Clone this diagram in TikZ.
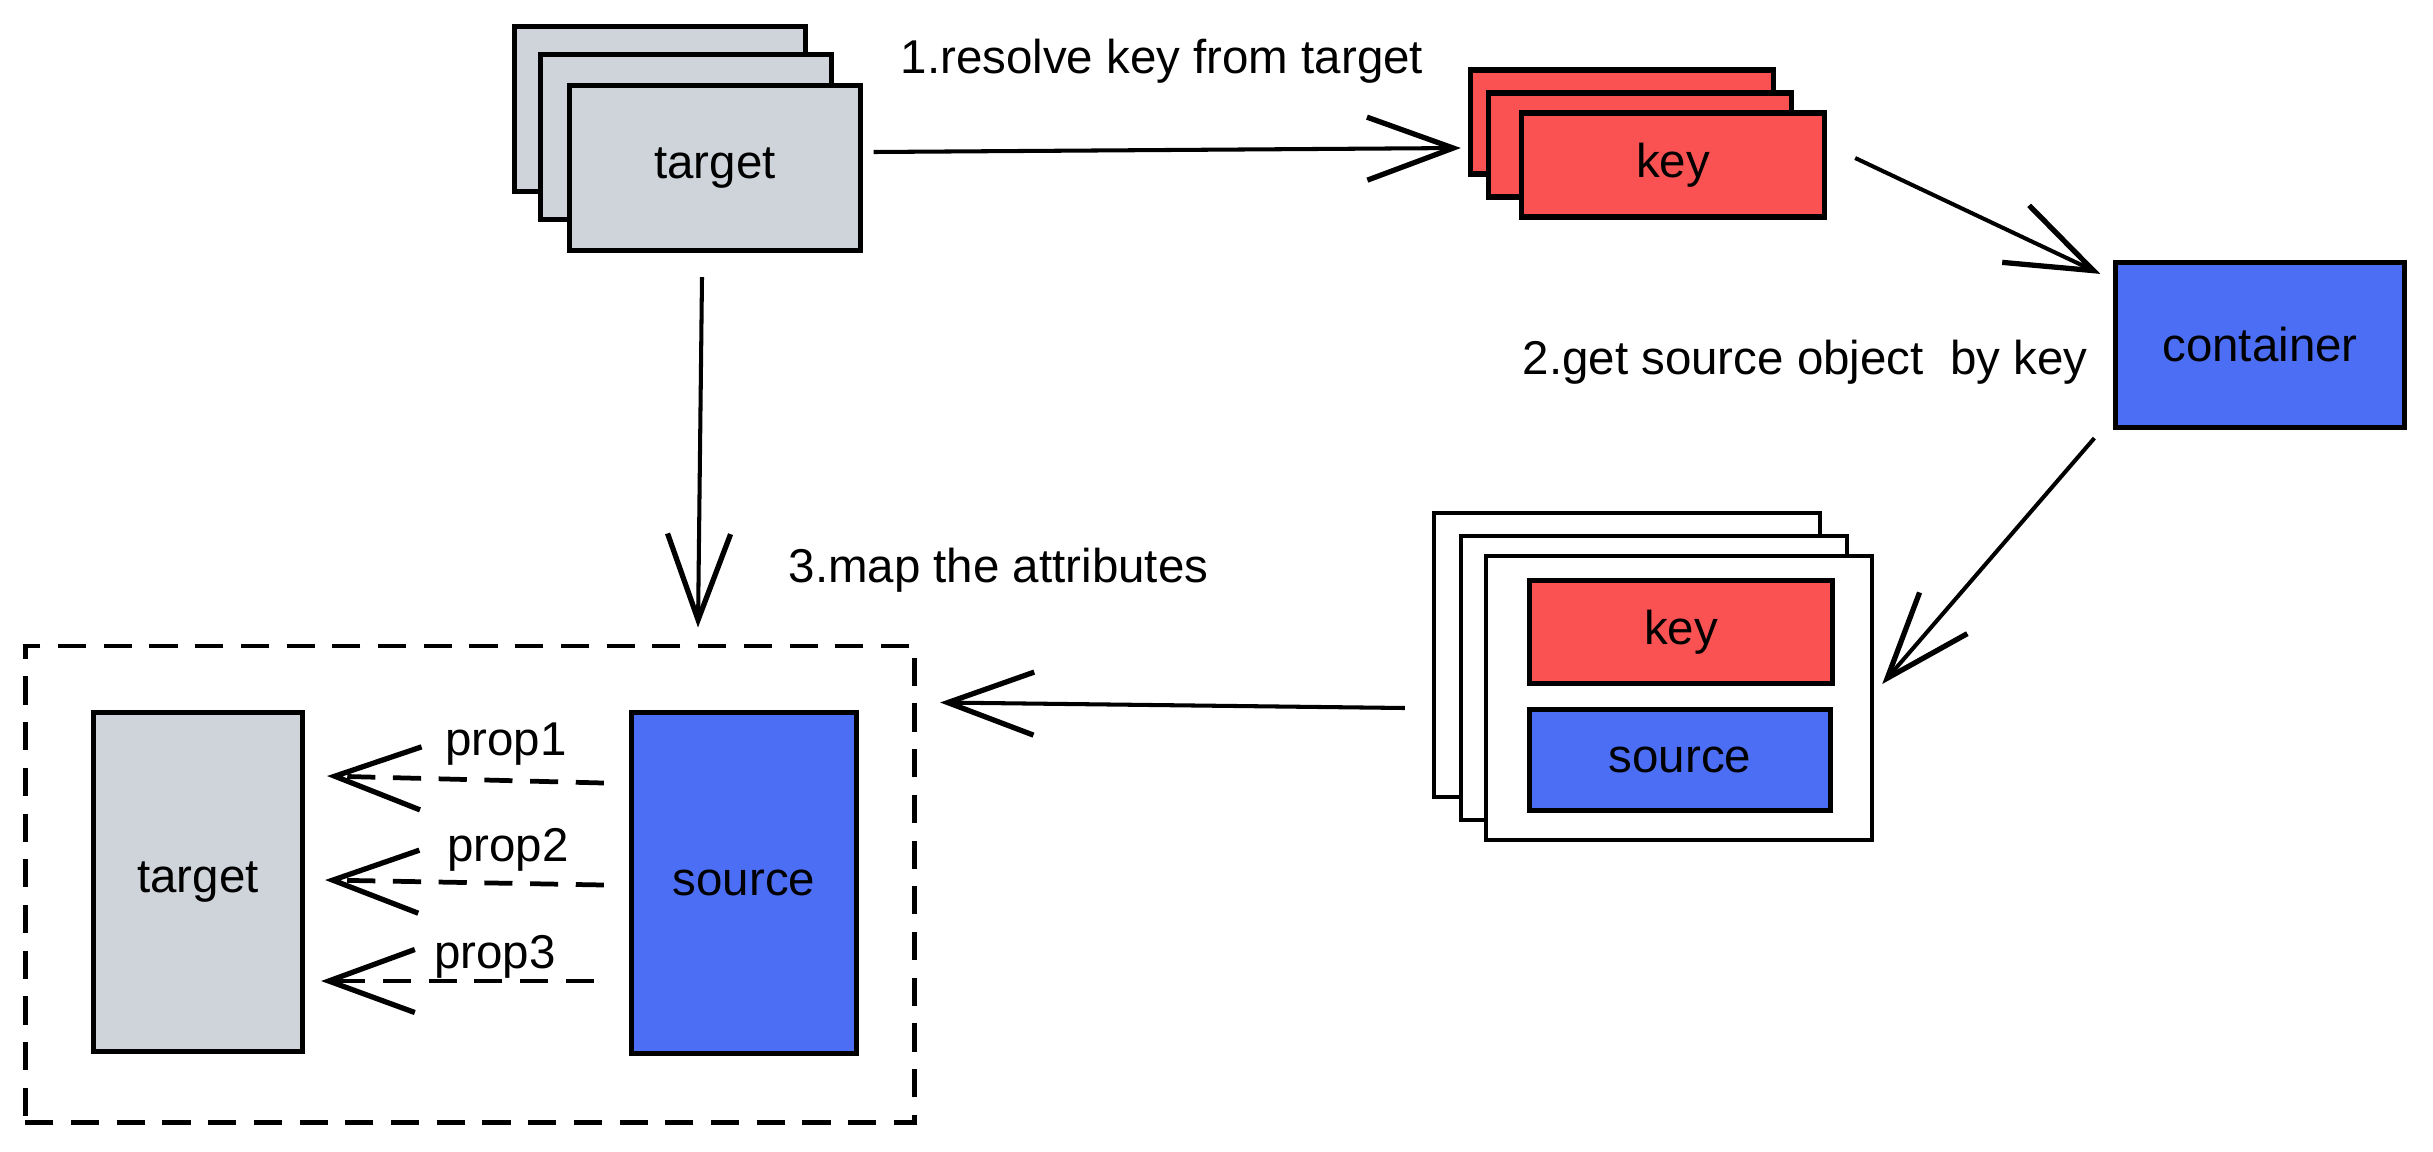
\documentclass[tikz,border=0pt]{standalone}
\usepackage{fontspec}
\setmainfont{Liberation Sans}
\usetikzlibrary{arrows.meta,calc}
\definecolor{gr}{HTML}{CED4DA}
\definecolor{rd}{HTML}{FA5252}
\definecolor{bl}{HTML}{4C6EF5}
\begin{document}
\begin{tikzpicture}[x=0.01cm,y=-0.01cm,
  box/.style={draw=black, line width=1.45pt, inner sep=0pt, font=\fontsize{13.5}{16}\selectfont},
  tbox/.style={box, fill=gr, minimum width=2.9cm, minimum height=1.65cm},
  kbox/.style={box, fill=rd, minimum width=3.03cm, minimum height=1.04cm},
  obox/.style={box, fill=white, line width=1.2pt, minimum width=3.86cm, minimum height=2.84cm},
  lbl/.style={inner sep=0pt, font=\fontsize{13.5}{16}\selectfont},
  arr/.style={line width=1.15pt, -{Straight Barb[length=0.86cm,width=0.63cm,line width=1.5pt]}},
  darr/.style={arr, line width=1.35pt, dash pattern=on 8pt off 5pt},
]
\useasboundingbox (0,0) rectangle (2433,1151);
% target stack
\node[tbox] (tb) at (660,109) {};
\node[tbox] (tm) at (686,137) {};
\node[tbox] (tf) at (715,168) {target};
% key stack
\node[kbox] (kb) at (1622,122) {};
\node[kbox] (km) at (1640,145) {};
\node[kbox] (kf) at (1673,165) {key};
% container
\node[box, fill=bl, minimum width=2.88cm, minimum height=1.65cm] (cont) at (2260,345) {container};
% object stack
\node[obox] (ob) at (1627,655) {};
\node[obox] (om) at (1654,678) {};
\node[obox] (of) at (1679,698) {};
\node[box, fill=rd, minimum width=3.02cm, minimum height=1.03cm] (ik) at (1681,632) {key};
\node[box, fill=bl, minimum width=3.0cm, minimum height=1.01cm] (is) at (1680,760) {source};
% group
\node[draw=black, line width=1.35pt, dash pattern=on 8pt off 5pt, inner sep=0pt, minimum width=8.89cm, minimum height=4.76cm] (grp) at (470,884) {};
\node[box, fill=gr, minimum width=2.09cm, minimum height=3.38cm] (gt) at (198,882) {target};
\node[box, fill=bl, minimum width=2.25cm, minimum height=3.40cm] (gs) at (744,883) {source};
% labels
\node[lbl, anchor=base west] (l1) at (900,73) {1.resolve key from target};
\node[lbl, anchor=base west] (l2) at (1522,374) {2.get source object\ \ by key};
\node[lbl, anchor=base west] (l3) at (788,582) {3.map the attributes};
\node[lbl] (p1) at (506,744) {prop1};
\node[lbl] (p2) at (508,850) {prop2};
\node[lbl] (p3) at (495,957) {prop3};
% connectors
\draw[arr] ($(tf.east)+(11,-16)$) -- ($(kb.west)+(-7,26)$);
\draw[arr] ($(kf.east)+(28,-7)$) -- ($(cont.north west)+(-13,14)$);
\draw[arr] ($(cont.south west)+(-19,8)$) -- ($(of.east)+(8,-14)$);
\draw[arr] ($(ob.west)+(-27,53)$) -- ($(grp.north east)+(23,59)$);
\draw[arr] ($(tf.south)+(-13,24)$) -- ($(tf.south |- grp.north)+(-17,-16)$);
\draw[darr] ($(gs.west)+(-25,-100)$) -- ($(gt.east)+(22,-106)$);
\draw[darr] ($(gs.west)+(-25,2)$) -- ($(gt.east)+(20,-2)$);
\draw[darr] ($(gs.west)+(-35,98)$) -- ($(gt.east)+(16,99)$);
\end{tikzpicture}
\end{document}
